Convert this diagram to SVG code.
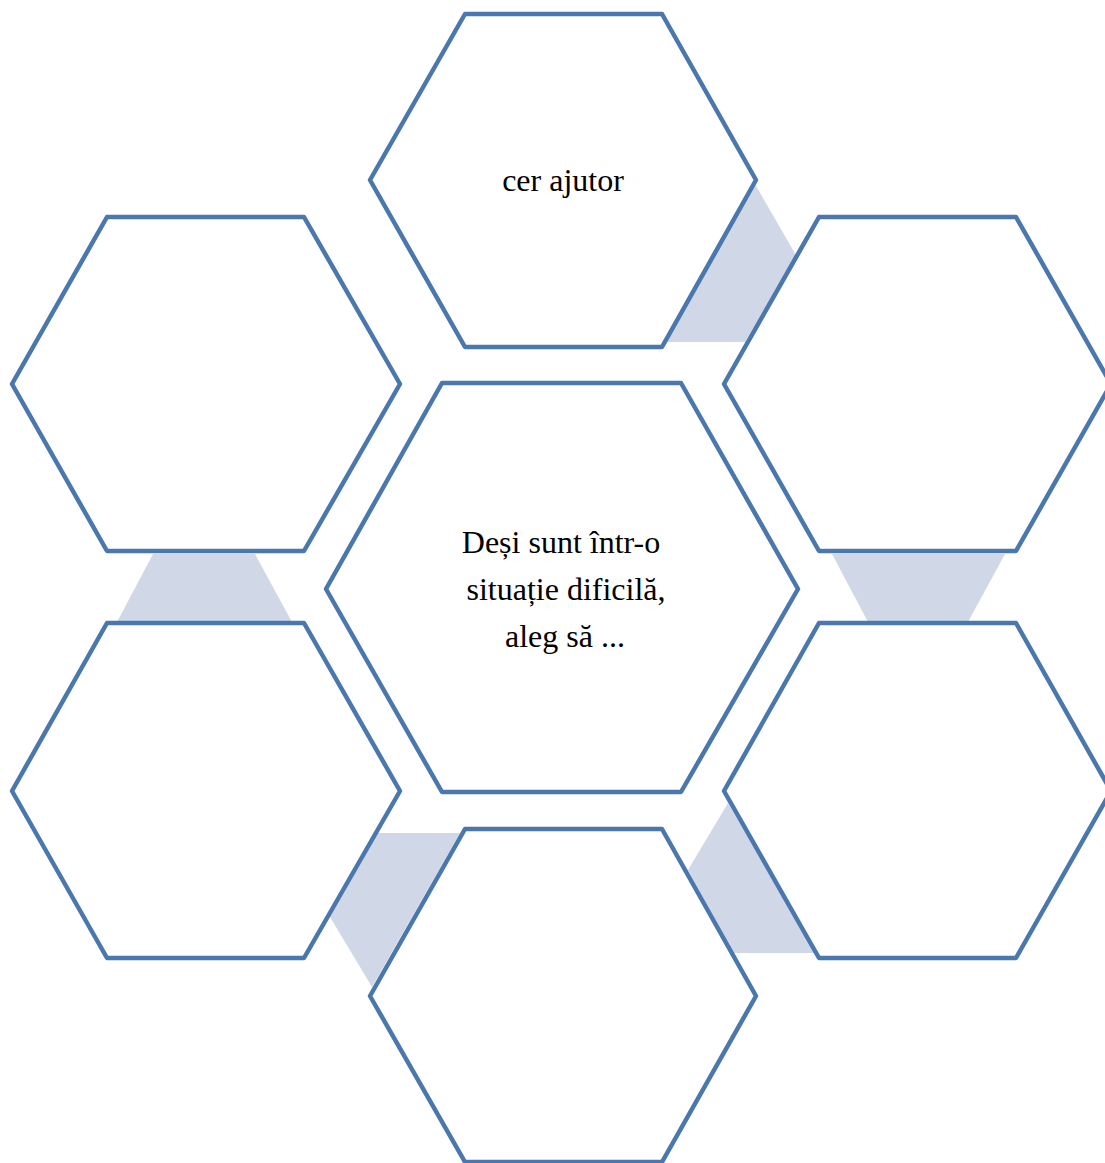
<svg xmlns="http://www.w3.org/2000/svg" width="1105" height="1163" viewBox="0 0 1105 1163">
<style>
.hex{fill:#ffffff;stroke:#4a77ae;stroke-width:4.5;stroke-linejoin:round}
.link{fill:#d0d8e7;stroke:none}
.lbl{font-family:"Liberation Serif","Times New Roman",serif;font-size:32px;fill:#000;text-anchor:middle}
</style>
<rect width="1105" height="1163" fill="#ffffff"/>
<g id="connectors">
<polygon class="link" points="755,184 797,257 745,342 665,342"/>
<polygon class="link" points="832,554 1005,554 968,622 868,622"/>
<polygon class="link" points="153,554 255,554 292,622 117,622"/>
<polygon class="link" points="378,833 460,833 372,987 330,917"/>
<polygon class="link" points="728,803 688,870 733,953 817,953"/>
</g>
<g id="node-top">
<polygon class="hex" points="370,180 465,14 662,14 756,180 662,347 465,347"/>
<text class="lbl" x="563" y="191">cer ajutor</text>
</g>
<g id="node-center">
<polygon class="hex" points="326,589 442,383 681,383 798,589 681,792 442,792"/>
<text class="lbl" x="561" y="553">Deși sunt într-o</text>
<text class="lbl" x="566" y="600">situație dificilă,</text>
<text class="lbl" x="565" y="647">aleg să ...</text>
</g>
<g id="node-left-top">
<polygon class="hex" points="12,384 107,217 304,217 400,384 304,551 107,551"/>
</g>
<g id="node-right-top">
<polygon class="hex" points="724,384 819,217 1016,217 1111,384 1016,551 819,551"/>
</g>
<g id="node-left-bottom">
<polygon class="hex" points="12,791 107,623 304,623 400,791 304,958 107,958"/>
</g>
<g id="node-right-bottom">
<polygon class="hex" points="724,791 819,623 1016,623 1111,791 1016,958 819,958"/>
</g>
<g id="node-bottom">
<polygon class="hex" points="370,996 465,829 662,829 756,996 662,1162 465,1162"/>
</g>
</svg>
